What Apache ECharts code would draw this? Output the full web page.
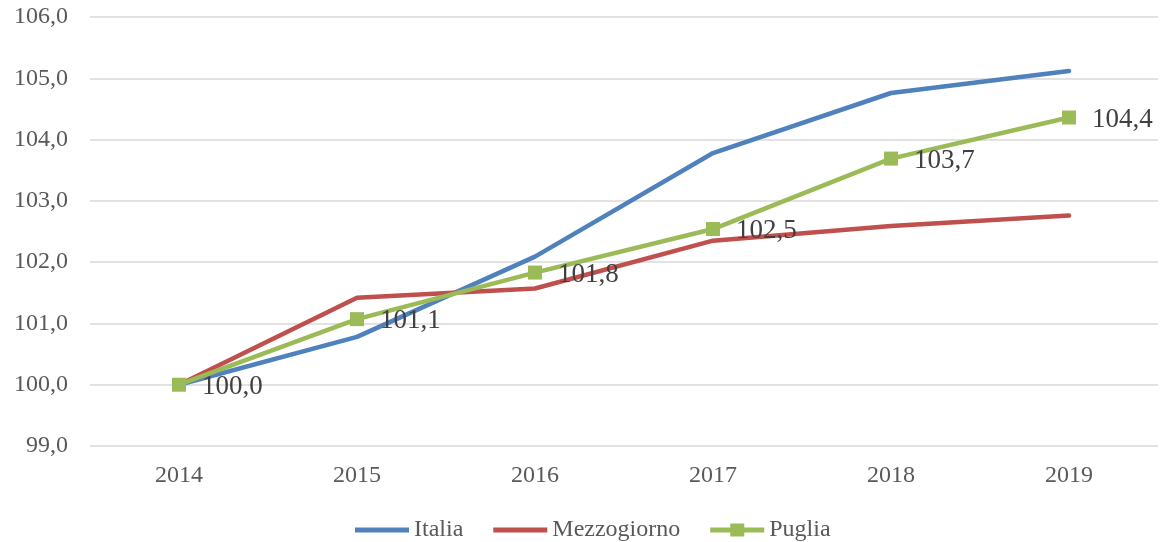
<!DOCTYPE html>
<html>
<head>
<meta charset="utf-8">
<script src="https://cdn.jsdelivr.net/npm/echarts@6/dist/echarts.min.js"></script>
<style>
  html, body { margin: 0; padding: 0; background: #fff; }
  #chart { width: 1162px; height: 542px; }
</style>
</head>
<body>
<div id="chart"></div>
<script>
// dati
const anni = ['2014', '2015', '2016', '2017', '2018', '2019']
const italia = [100.0, 100.78, 102.09, 103.78, 104.76, 105.12]
const mezzogiorno = [100.0, 101.42, 101.57, 102.35, 102.59, 102.76]
const puglia = [100.0, 101.07, 101.83, 102.54, 103.69, 104.36]

const virgola = (v) => v.toFixed(1).replace('.', ',')
const font = 'Liberation Serif'

// icone della legenda: linea semplice e linea con quadrato
const iconaLinea = 'path://M0,0h54v5h-54z'
const iconaQuadrato = 'path://M0,4h20v-4h14v4h20v5h-20v4h-14v-4h-20z'

const myChart = echarts.init(document.querySelector('#chart'))
const option = {
  animation: false,
  textStyle: { fontFamily: font },
  grid: { left: 90, right: 4, top: 17, bottom: 96 },
  legend: {
    bottom: -5,
    left: 350,
    itemWidth: 54,
    itemHeight: 13,
    itemGap: 30,
    textStyle: { fontFamily: font, fontSize: 24, color: '#595959' },
    data: [
      { name: 'Italia', icon: iconaLinea },
      { name: 'Mezzogiorno', icon: iconaLinea },
      { name: 'Puglia', icon: iconaQuadrato }
    ]
  },
  xAxis: {
    type: 'category',
    data: anni,
    boundaryGap: true,
    axisLine: { show: false },
    axisTick: { show: false },
    axisLabel: { fontFamily: font, fontSize: 24, color: '#595959', margin: 18 }
  },
  yAxis: {
    type: 'value',
    min: 99,
    max: 106,
    interval: 1,
    axisLine: { show: false },
    axisTick: { show: false },
    splitLine: { lineStyle: { color: '#d9d9d9', width: 1.5 } },
    axisLabel: { fontFamily: font, fontSize: 24, color: '#595959', margin: 22, formatter: virgola }
  },
  series: [
    {
      name: 'Italia',
      type: 'line',
      data: italia,
      symbol: 'none',
      lineStyle: { width: 4.5, color: '#4f81bd', cap: 'round', join: 'round' },
      itemStyle: { color: '#4f81bd' }
    },
    {
      name: 'Mezzogiorno',
      type: 'line',
      data: mezzogiorno,
      symbol: 'none',
      lineStyle: { width: 4.5, color: '#c0504d', cap: 'round', join: 'round' },
      itemStyle: { color: '#c0504d' }
    },
    {
      name: 'Puglia',
      type: 'line',
      data: puglia,
      symbol: 'rect',
      symbolSize: 14,
      lineStyle: { width: 4.5, color: '#9bbb59', cap: 'round', join: 'round' },
      itemStyle: { color: '#9bbb59' },
      label: {
        show: true,
        position: 'right',
        distance: 16,
        offset: [0, 2],
        fontFamily: font,
        fontSize: 27,
        color: '#404040',
        formatter: (p) => virgola(p.value)
      }
    }
  ]
}
myChart.setOption(option)
</script>
</body>
</html>
